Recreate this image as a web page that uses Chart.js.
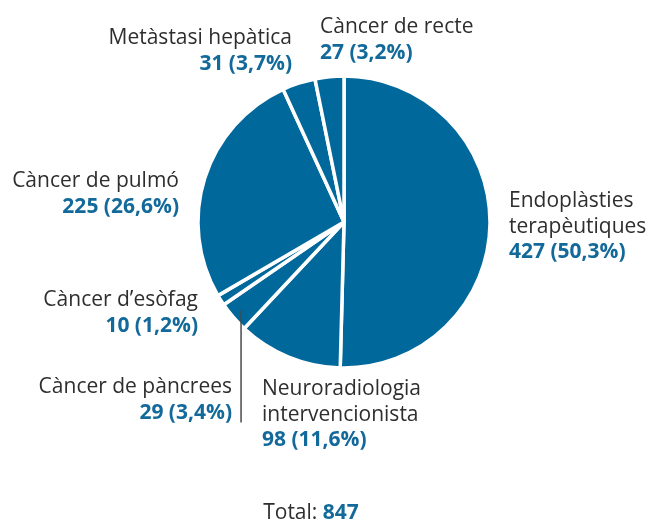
<!DOCTYPE html>
<html>
<head>
<meta charset="utf-8">
<script src="https://cdn.jsdelivr.net/npm/chart.js@4/dist/chart.umd.min.js"></script>
<style>
  html, body { margin: 0; padding: 0; background: #ffffff; }
  #wrap { position: relative; width: 647px; height: 524px; }
</style>
</head>
<body>
<div id="wrap"><canvas id="c" width="647" height="524"></canvas></div>
<script>
// ---- data ----
const categories = [
  ["Endoplàsties", "terapèutiques"],
  ["Neuroradiologia", "intervencionista"],
  ["Càncer de pàncrees"],
  ["Càncer d’esòfag"],
  ["Càncer de pulmó"],
  ["Metàstasi hepàtica"],
  ["Càncer de recte"]
];
const counts = [427, 98, 29, 10, 225, 31, 27];
const percents = [50.3, 11.6, 3.4, 1.2, 26.6, 3.7, 3.2];
const totalLabel = "Total:";
const totalValue = 847;

// ---- styling / layout (not data) ----
const SLICE = "#00689a";
const VALUE_BLUE = "#13699a";
const TEXT = "#2e2e2e";
const FONT = "'Open Sans', 'DejaVu Sans', sans-serif";
const FS = 21;
const LH = 25.5;
// anchor x, baseline of first line, alignment
const labelPos = [
  { x: 509, y: 207, align: "left" },
  { x: 262, y: 395, align: "left" },
  { x: 232, y: 393, align: "right" },
  { x: 198, y: 306, align: "right" },
  { x: 179, y: 187, align: "right" },
  { x: 292, y: 44,  align: "right" },
  { x: 320, y: 33,  align: "left" }
];
const leaderIndex = 2;

function fmtPct(p) { return p.toFixed(1).replace(".", ",") + "%"; }

const labelPlugin = {
  id: "labels",
  afterDraw(chart) {
    const ctx = chart.ctx;
    const meta = chart.getDatasetMeta(0);
    ctx.save();
    ctx.textBaseline = "alphabetic";
    categories.forEach((lines, i) => {
      const p = labelPos[i];
      ctx.textAlign = p.align;
      ctx.fillStyle = TEXT;
      ctx.font = "400 " + FS + "px " + FONT;
      lines.forEach((t, k) => ctx.fillText(t, p.x, p.y + k * LH));
      ctx.fillStyle = VALUE_BLUE;
      ctx.font = "700 " + FS + "px " + FONT;
      ctx.fillText(counts[i] + " (" + fmtPct(percents[i]) + ")", p.x, p.y + lines.length * LH);
    });
    // leader line for small slice
    const arc = meta.data[leaderIndex];
    const props = arc.getProps(["x", "y", "startAngle", "endAngle", "outerRadius"], true);
    const mid = (props.startAngle + props.endAngle) / 2;
    const r = props.outerRadius * 0.93;
    const lx = props.x + Math.cos(mid) * r;
    const ly = props.y + Math.sin(mid) * r;
    ctx.strokeStyle = "#4a4a4a";
    ctx.lineWidth = 1.5;
    ctx.beginPath();
    ctx.moveTo(lx, ly);
    ctx.lineTo(lx, labelPos[leaderIndex].y + LH + 4);
    ctx.stroke();
    // total
    ctx.textAlign = "left";
    ctx.font = "400 " + FS + "px " + FONT;
    const w1 = ctx.measureText(totalLabel + " ").width;
    ctx.font = "700 " + FS + "px " + FONT;
    const w2 = ctx.measureText(String(totalValue)).width;
    const cx = 311;
    const start = cx - (w1 + w2) / 2;
    ctx.font = "400 " + FS + "px " + FONT;
    ctx.fillStyle = TEXT;
    ctx.fillText(totalLabel + " ", start, 519);
    ctx.font = "700 " + FS + "px " + FONT;
    ctx.fillStyle = VALUE_BLUE;
    ctx.fillText(String(totalValue), start + w1, 519);
    ctx.restore();
  }
};

new Chart(document.getElementById("c"), {
  type: "pie",
  data: {
    labels: categories.map(l => l.join(" ")),
    datasets: [{
      data: counts,
      backgroundColor: SLICE,
      borderColor: "#ffffff",
      borderWidth: 3.5
    }]
  },
  options: {
    responsive: false,
    animation: false,
    radius: 146,
    layout: { padding: { left: 194, right: 153, top: 72, bottom: 152 } },
    plugins: { legend: { display: false }, tooltip: { enabled: false } }
  },
  plugins: [labelPlugin]
});
</script>
</body>
</html>
